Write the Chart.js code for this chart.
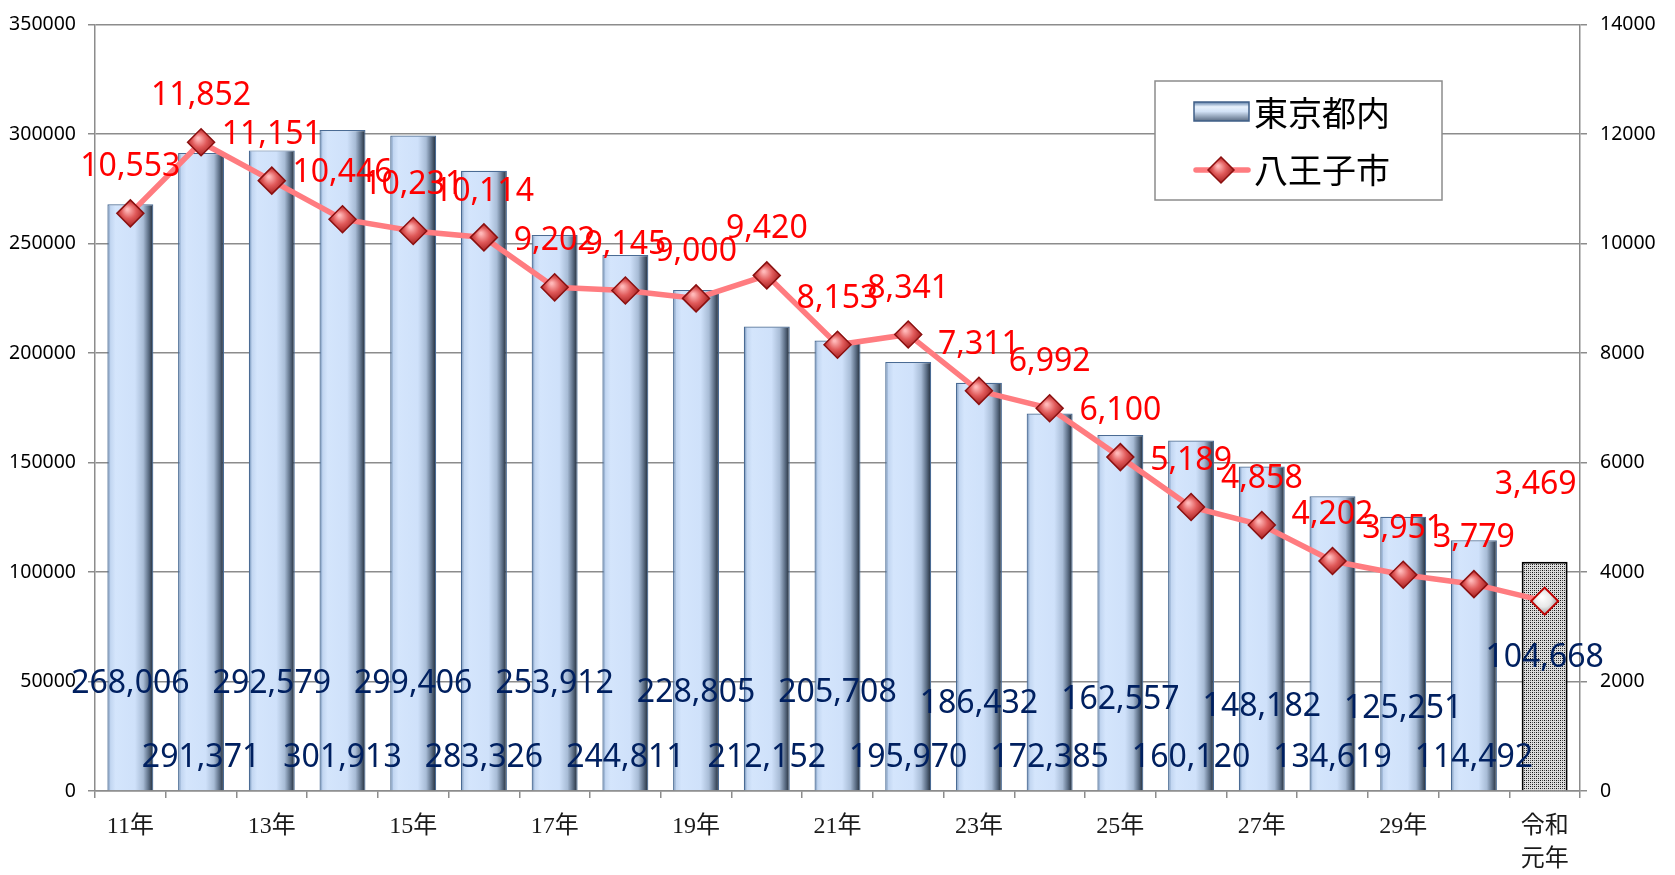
<!DOCTYPE html>
<html><head><meta charset="utf-8">
<script src="https://cdn.jsdelivr.net/npm/chart.js@4.4.1/dist/chart.umd.min.js"></script>
<style>html,body{margin:0;padding:0;background:#fff}#wrap{width:1675px;height:875px;position:relative}</style>
</head><body><div id="wrap"><canvas id="c"></canvas></div>
<script>
// ---- data ----
const categories = ['11年','12年','13年','14年','15年','16年','17年','18年','19年','20年',
  '21年','22年','23年','24年','25年','26年','27年','28年','29年','30年',['令和','元年']];
const seriesNames = ['東京都内','八王子市'];
const tokyoValues = [268006,291371,292579,301913,299406,283326,253912,244811,228805,212152,
  205708,195970,186432,172385,162557,160120,148182,134619,125251,114492,104668];
const hachiojiValues = [10553,11852,11151,10446,10231,10114,9202,9145,9000,9420,
  8153,8341,7311,6992,6100,5189,4858,4202,3951,3779,3469];
const leftAxis = {min:0, max:350000, step:50000};
const rightAxis = {min:0, max:14000, step:2000};

// ---- styling helpers ----
const LAST = categories.length - 1;
const GRID = '#8c8c8c';
let patternCache = null;
function dotPattern(){
  if (patternCache) return patternCache;
  const p = document.createElement('canvas'); p.width = 4; p.height = 4;
  const g = p.getContext('2d');
  g.fillStyle = '#dcdcdc'; g.fillRect(0,0,4,4);
  g.fillStyle = '#111'; g.fillRect(0,0,1,1); g.fillRect(2,2,1,1);
  g.fillStyle = '#555'; g.fillRect(2,0,1,1); g.fillRect(0,2,1,1);
  patternCache = document.getElementById('c').getContext('2d').createPattern(p,'repeat');
  return patternCache;
}
function blueGradient(c, x0, x1){
  const g = c.createLinearGradient(x0,0,x1,0);
  g.addColorStop(0,'#5d7fa8');
  g.addColorStop(0.07,'#c2d6f1');
  g.addColorStop(0.18,'#d4e5fc');
  g.addColorStop(0.6,'#cfe1fa');
  g.addColorStop(0.78,'#a8bcd6');
  g.addColorStop(0.9,'#5b6d84');
  g.addColorStop(1,'#1d2733');
  return g;
}
function barFill(ctx){
  if (ctx.dataIndex === LAST) return dotPattern();
  const ch = ctx.chart, xs = ch.scales && ch.scales.x;
  if (ctx.type !== 'data' || !xs || !ch.chartArea) return '#cfe1fa';
  const cx = xs.getPixelForValue(ctx.dataIndex);
  const w = xs.width / categories.length * 0.65;
  if (!isFinite(cx) || !isFinite(w) || w <= 0) return '#cfe1fa';
  return blueGradient(ch.ctx, cx - w/2, cx + w/2);
}
function pointFill(ctx){
  const ch = ctx.chart, xs = ch.scales && ch.scales.x, ys = ch.scales && ch.scales.y1;
  const fallback = ctx.dataIndex === LAST ? '#e8e8e8' : '#d04040';
  if (ctx.type !== 'data' || !xs || !ys || !ch.chartArea) return fallback;
  const x = xs.getPixelForValue(ctx.dataIndex), y = ys.getPixelForValue(ctx.raw);
  if (!isFinite(x) || !isFinite(y)) return fallback;
  const g = ch.ctx.createRadialGradient(x-3, y-4, 1, x, y, 15);
  if (ctx.dataIndex === LAST){
    g.addColorStop(0,'#ffffff'); g.addColorStop(0.5,'#e8e8e8'); g.addColorStop(1,'#8a8a8a');
  } else {
    g.addColorStop(0,'#ffb8b8'); g.addColorStop(0.45,'#e05a5a'); g.addColorStop(1,'#9a1515');
  }
  return g;
}

// value on left axis where each bar label sits (labels are staggered)
const barLabelAnchor = [48700,15000,48700,15000,48700,15000,49000,15000,45000,15000,
  45000,15000,40000,15000,41800,15000,38200,15000,37300,15000,61000];

const labelPlugin = {
  id:'valueLabels',
  afterDatasetsDraw(chart){
    const c = chart.ctx, xs = chart.scales.x, ys = chart.scales.y, y1 = chart.scales.y1;
    c.save();
    c.textAlign = 'center'; c.textBaseline = 'middle';
    c.font = '32px "Noto Sans"';
    c.fillStyle = '#002060';
    tokyoValues.forEach((v,i)=>{
      c.fillText(v.toLocaleString('en-US'), xs.getPixelForValue(i), ys.getPixelForValue(barLabelAnchor[i]));
    });
    c.fillStyle = '#ff0000';
    hachiojiValues.forEach((v,i)=>{
      const dx = i === LAST ? -9 : 0, dy = i === LAST ? 116 : 46;
      c.fillText(v.toLocaleString('en-US'), xs.getPixelForValue(i) + dx, y1.getPixelForValue(v) - dy);
    });
    c.restore();
  }
};

const legendPlugin = {
  id:'boxLegend',
  afterDraw(chart){
    const c = chart.ctx;
    const bx = 1155, by = 81, bw = 287, bh = 119;
    c.save();
    c.fillStyle = '#fff'; c.fillRect(bx,by,bw,bh);
    c.strokeStyle = GRID; c.lineWidth = 1.5; c.strokeRect(bx,by,bw,bh);
    // bar icon
    const g = c.createLinearGradient(0,102,0,121);
    g.addColorStop(0,'#5d7fa8'); g.addColorStop(0.25,'#e8f1fc'); g.addColorStop(0.5,'#d2e2f6'); g.addColorStop(1,'#5b6d84');
    c.fillStyle = g; c.fillRect(1194,102,55,19);
    c.strokeStyle = '#3f5f88'; c.lineWidth = 1.5; c.strokeRect(1194,102,55,19);
    // line icon
    c.strokeStyle = '#ff7c80'; c.lineWidth = 5.5; c.lineCap = 'round';
    c.beginPath(); c.moveTo(1196,170); c.lineTo(1248,170); c.stroke();
    const rg = c.createRadialGradient(1218,166,1,1221,170,14);
    rg.addColorStop(0,'#ffb8b8'); rg.addColorStop(0.45,'#e05a5a'); rg.addColorStop(1,'#9a1515');
    c.fillStyle = rg; c.strokeStyle = '#8b1010'; c.lineWidth = 1.5;
    c.beginPath(); c.moveTo(1221,157); c.lineTo(1234,170); c.lineTo(1221,183); c.lineTo(1208,170); c.closePath();
    c.fill(); c.stroke();
    // text
    c.fillStyle = '#000'; c.textAlign = 'left'; c.textBaseline = 'middle';
    c.font = '34px "Noto Sans CJK JP"';
    c.fillText(seriesNames[0], 1254, 113);
    c.fillText(seriesNames[1], 1254, 170);
    c.restore();
  }
};

new Chart(document.getElementById('c'), {
  type:'bar',
  data:{
    labels: categories,
    datasets:[
      { type:'line', label:seriesNames[1], data:hachiojiValues, yAxisID:'y1', order:0,
        borderColor:'#ff7c80', borderWidth:5.5, tension:0,
        pointStyle:'rectRot', pointRadius:13.5, pointHoverRadius:13.5,
        pointBackgroundColor: pointFill,
        pointBorderColor: ctx => ctx.dataIndex === LAST ? '#c00000' : '#8b1010',
        pointBorderWidth: ctx => ctx.dataIndex === LAST ? 2 : 1.5 },
      { type:'bar', label:seriesNames[0], data:tokyoValues, yAxisID:'y', order:1,
        backgroundColor: barFill,
        borderColor: ctx => ctx.dataIndex === LAST ? '#000' : '#4a6b94',
        borderWidth: ctx => ctx.dataIndex === LAST ? 2 : 1.2,
        categoryPercentage:1, barPercentage:0.65 }
    ]
  },
  options:{
    animation:false, responsive:true, maintainAspectRatio:false,
    layout:{padding:{top:22,left:0,right:0,bottom:0}},
    plugins:{legend:{display:false}, tooltip:{enabled:false}},
    scales:{
      x:{ offset:true,
        grid:{offset:true, drawOnChartArea:false, drawTicks:true, tickLength:7, color:GRID, lineWidth:1.5},
        border:{color:GRID, width:1.5},
        ticks:{autoSkip:false, maxRotation:0, minRotation:0, padding:13, color:'#1a1a1a',
          font:{family:'"Liberation Serif", "Noto Sans CJK JP"', size:24, lineHeight:1.35},
          callback:(v,i)=> i % 2 === 0 ? categories[i] : ''},
        afterFit:s=>{s.height = 84;} },
      y:{ position:'left', min:leftAxis.min, max:leftAxis.max,
        ticks:{stepSize:leftAxis.step, padding:12, color:'#000', font:{family:'"Noto Sans"', size:19.5}, callback:v=>String(v)},
        grid:{color:GRID, lineWidth:1.5, tickLength:7, drawTicks:true},
        border:{color:GRID, width:1.5},
        afterFit:s=>{s.width = 95;} },
      y1:{ position:'right', min:rightAxis.min, max:rightAxis.max,
        ticks:{stepSize:rightAxis.step, padding:13, color:'#000', font:{family:'"Noto Sans"', size:19.5}, callback:v=>String(v)},
        grid:{drawOnChartArea:false, color:GRID, lineWidth:1.5, tickLength:7, drawTicks:true},
        border:{color:GRID, width:1.5},
        afterFit:s=>{s.width = 95;} }
    }
  },
  plugins:[labelPlugin, legendPlugin]
});
</script></body></html>
